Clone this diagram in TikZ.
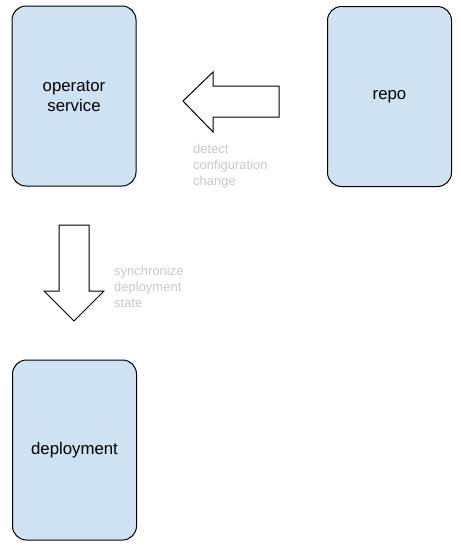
\documentclass[tikz,border=0pt]{standalone}
\usepackage{fontspec}
\setmainfont{Liberation Sans}
\definecolor{boxfill}{HTML}{CFE2F3}
\definecolor{labelgray}{HTML}{C8C8C8}
\begin{document}
\begin{tikzpicture}[x=1pt,y=-1pt,
  box/.style={draw=black, line width=1pt, fill=boxfill, rounded corners=14pt,
    minimum width=124pt, minimum height=180pt, inner sep=0pt, align=center,
    font=\fontsize{16.8}{20}\selectfont},
  blockarrow/.style={draw=black, line width=1pt, fill=white, line join=miter},
  note/.style={text=labelgray, align=left, inner sep=0pt, anchor=north west,
    font=\fontsize{13}{16}\selectfont}]
\useasboundingbox (0,0) rectangle (461,550);
\node[box] (op) at (74,96) {operator\\service};
\node[box] (repo) at (389.5,96.5) {repo};
\node[box] (dep) at (74.5,450) {deployment};
% left block arrow (repo -> operator service)
\draw[blockarrow] (183,101) -- (213,72) -- (213,86) -- (279,86) -- (279,117)
  -- (213,117) -- (213,132) -- cycle;
% down block arrow (operator service -> deployment)
\draw[blockarrow] (74,321) -- (44,291) -- (59,291) -- (59,225) -- (89,225)
  -- (89,291) -- (104,291) -- cycle;
\node[note] (detect) at (193,144) {detect\\configuration\\change};
\node[note] (sync) at (114,266) {synchronize\\deployment\\state};
\end{tikzpicture}
\end{document}
